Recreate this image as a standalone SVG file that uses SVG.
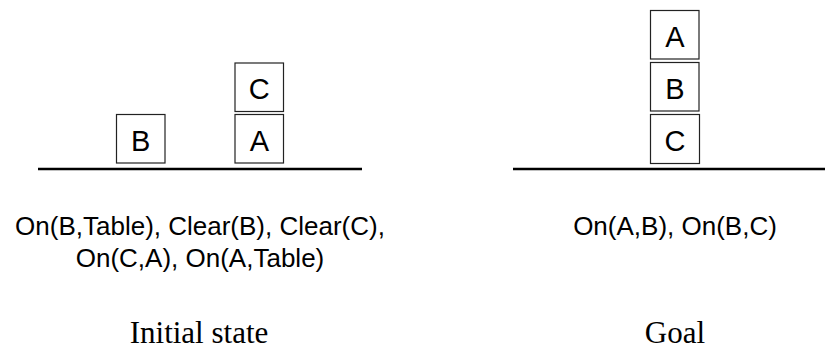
<svg xmlns="http://www.w3.org/2000/svg" width="825" height="350" viewBox="0 0 825 350">
<style>
.box{fill:#fff;stroke:#222;stroke-width:1.2}
.bl{font-family:"Liberation Sans",Arial,sans-serif;font-size:29px;fill:#000;text-anchor:middle}
.fact{font-family:"Liberation Sans",Arial,sans-serif;font-size:26px;fill:#000;text-anchor:middle}
.cap{font-family:"Liberation Serif","Times New Roman",serif;font-size:31px;fill:#000;text-anchor:middle}
.ground{stroke:#000;stroke-width:2.6}
</style>
<rect width="825" height="350" fill="#fff"/>
<g id="initial-ground"><line class="ground" x1="38" y1="169" x2="362" y2="169"/></g>
<g id="initial-B"><rect class="box" x="116.5" y="114.5" width="48.5" height="48.5"/><text class="bl" x="140.7" y="150.5">B</text></g>
<g id="initial-A"><rect class="box" x="235" y="114.5" width="48.5" height="48.5"/><text class="bl" x="259.3" y="150.5">A</text></g>
<g id="initial-C"><rect class="box" x="235" y="63" width="48.5" height="48.5"/><text class="bl" x="259.3" y="99">C</text></g>
<g id="initial-facts"><text class="fact" x="200" y="235">On(B,Table), Clear(B), Clear(C),</text><text class="fact" x="200" y="267">On(C,A), On(A,Table)</text></g>
<g id="initial-caption"><text class="cap" x="199" y="343">Initial state</text></g>
<g id="goal-ground"><line class="ground" x1="513" y1="169" x2="825" y2="169"/></g>
<g id="goal-A"><rect class="box" x="650.5" y="10.5" width="48.5" height="48.5"/><text class="bl" x="674.8" y="46.5">A</text></g>
<g id="goal-B"><rect class="box" x="650.5" y="62.5" width="48.5" height="48.5"/><text class="bl" x="674.8" y="98.5">B</text></g>
<g id="goal-C"><rect class="box" x="650.5" y="114.5" width="49" height="49"/><text class="bl" x="675" y="150.5">C</text></g>
<g id="goal-facts"><text class="fact" x="675" y="235">On(A,B), On(B,C)</text></g>
<g id="goal-caption"><text class="cap" x="675" y="343">Goal</text></g>
</svg>
